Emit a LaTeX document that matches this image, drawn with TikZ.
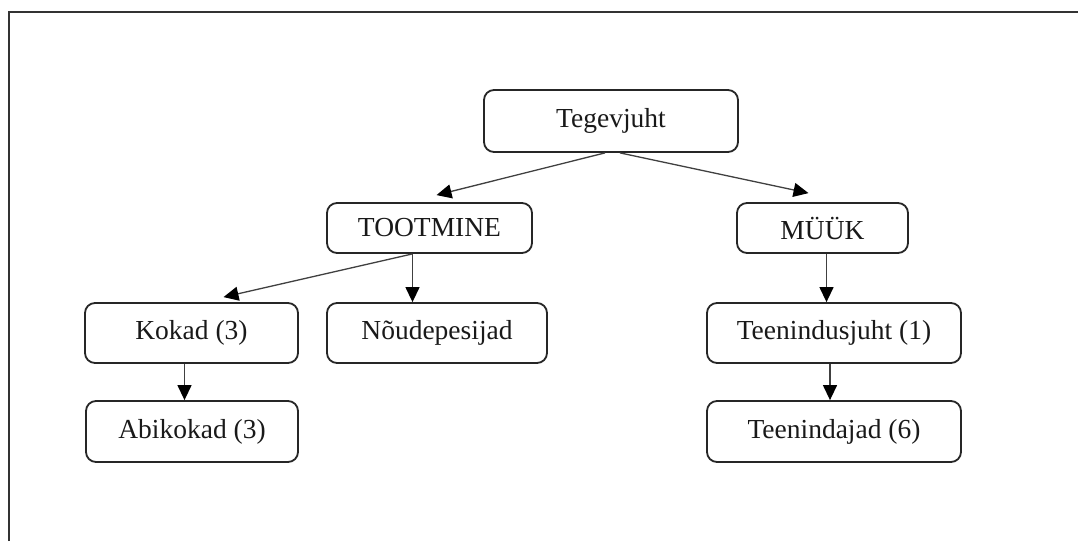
\documentclass[tikz,border=0pt]{standalone}
\usepackage{fontspec}
\setmainfont{Liberation Serif}
\usetikzlibrary{arrows.meta}
\begin{document}
\begin{tikzpicture}[x=1pt,y=-1pt,
  box/.style={draw=black!85, line width=1.8pt, rounded corners=10pt, inner sep=0pt,
    font=\fontsize{27.5}{32}\selectfont, text=black!90},
  link/.style={draw=black!75, line width=1.3pt,
    -{Triangle[length=15pt,width=14pt,fill=black,color=black]}},
  frame/.style={draw=black!80, line width=2pt}]
\useasboundingbox (0,0) rectangle (1078,541);

% page frame (only top and left edges are visible)
\draw[frame] (9,541) -- (9,12) -- (1078,12);

% boxes
\node[box, minimum width=254pt, minimum height=62pt] (head) at (611,121) {Tegevjuht};
\node[box, minimum width=205pt, minimum height=50pt] (prod) at (429.5,228) {TOOTMINE};
\node[box, minimum width=171pt, minimum height=50pt] (sales) at (822.5,228) {MÜÜK};
\node[box, minimum width=213pt, minimum height=60pt] (cooks) at (191.5,333) {Kokad (3)};
\node[box, minimum width=220pt, minimum height=60pt] (wash) at (437,333) {Nõudepesijad};
\node[box, minimum width=212pt, minimum height=61pt] (helpers) at (192,431.5) {Abikokad (3)};
\node[box, minimum width=254pt, minimum height=60pt] (svclead) at (834,333) {Teenindusjuht (1)};
\node[box, minimum width=254pt, minimum height=61pt] (waiters) at (834,431.5) {Teenindajad (6)};

% connectors
\draw[link] ([xshift=-6pt]head.south) -- ([xshift=7pt,yshift=7pt]prod.north);
\draw[link] ([xshift=9pt]head.south) -- ([xshift=-14pt,yshift=9pt]sales.north);

\coordinate (prodout) at ([xshift=-17pt]prod.south);
\draw[link] (prodout) -- ([xshift=32pt,yshift=5pt]cooks.north);
\draw[link] (prodout) -- (prodout |- wash.north);

\coordinate (cooksout) at ([xshift=-7pt]cooks.south);
\draw[link] (cooksout) -- (cooksout |- helpers.north);

\coordinate (salesout) at ([xshift=4pt]sales.south);
\draw[link] (salesout) -- (salesout |- svclead.north);

\coordinate (leadout) at ([xshift=-4pt]svclead.south);
\draw[link] (leadout) -- (leadout |- waiters.north);
\end{tikzpicture}
\end{document}
